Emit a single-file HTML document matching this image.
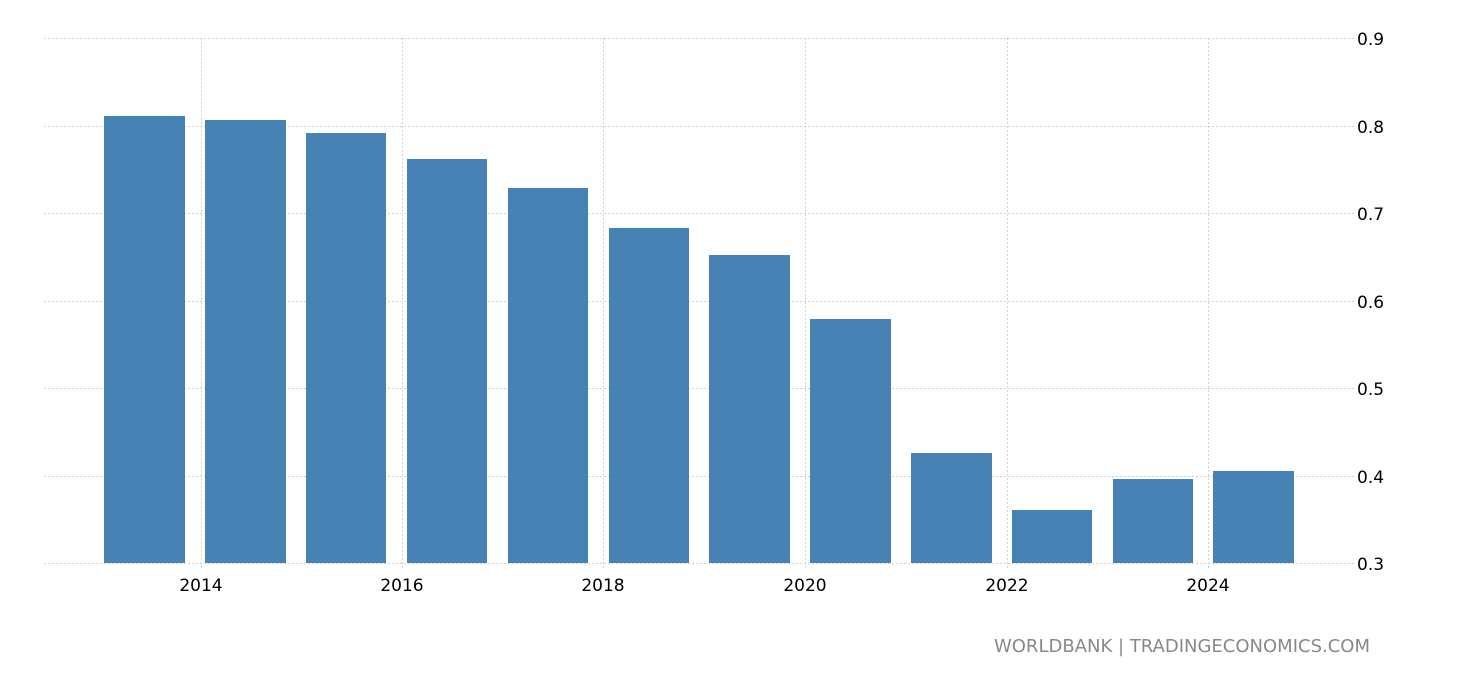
<!DOCTYPE html>
<html><head><style>body{margin:0;background:#fff}svg{display:block}</style></head><body>
<svg width="1460" height="680" xmlns="http://www.w3.org/2000/svg" font-family="DejaVu Sans, Liberation Sans, sans-serif">
<g stroke="#d0d0d0" stroke-width="1" stroke-dasharray="2,2">
<line x1="44" x2="1354" y1="38.5" y2="38.5"/><line x1="44" x2="1354" y1="126.5" y2="126.5"/><line x1="44" x2="1354" y1="213.5" y2="213.5"/><line x1="44" x2="1354" y1="301.5" y2="301.5"/><line x1="44" x2="1354" y1="388.5" y2="388.5"/><line x1="44" x2="1354" y1="476.5" y2="476.5"/><line x1="44" x2="1354" y1="563.5" y2="563.5"/>
<line x1="201.5" x2="201.5" y1="38" y2="570"/><line x1="402.5" x2="402.5" y1="38" y2="570"/><line x1="603.5" x2="603.5" y1="38" y2="570"/><line x1="805.5" x2="805.5" y1="38" y2="570"/><line x1="1007.5" x2="1007.5" y1="38" y2="570"/><line x1="1208.5" x2="1208.5" y1="38" y2="570"/>
</g>
<g fill="#4682b4">
<rect x="104" y="116" width="81" height="447"/><rect x="205" y="120" width="81" height="443"/><rect x="306" y="133" width="80" height="430"/><rect x="407" y="159" width="80" height="404"/><rect x="508" y="188" width="80" height="375"/><rect x="609" y="228" width="80" height="335"/><rect x="709" y="255" width="81" height="308"/><rect x="810" y="319" width="81" height="244"/><rect x="911" y="453" width="81" height="110"/><rect x="1012" y="510" width="80" height="53"/><rect x="1113" y="479" width="80" height="84"/><rect x="1213" y="471" width="81" height="92"/>
</g>
<g font-size="17" fill="#000">
<text x="1357" y="45">0.9</text><text x="1357" y="133">0.8</text><text x="1357" y="220">0.7</text><text x="1357" y="308">0.6</text><text x="1357" y="395">0.5</text><text x="1357" y="483">0.4</text><text x="1357" y="570">0.3</text>
</g>
<g font-size="17" fill="#000" text-anchor="middle">
<text x="201" y="591">2014</text><text x="402" y="591">2016</text><text x="603" y="591">2018</text><text x="805" y="591">2020</text><text x="1007" y="591">2022</text><text x="1208" y="591">2024</text>
</g>
<text x="1370" y="652" font-size="18" fill="#888" text-anchor="end">WORLDBANK | TRADINGECONOMICS.COM</text>
</svg>
</body></html>
